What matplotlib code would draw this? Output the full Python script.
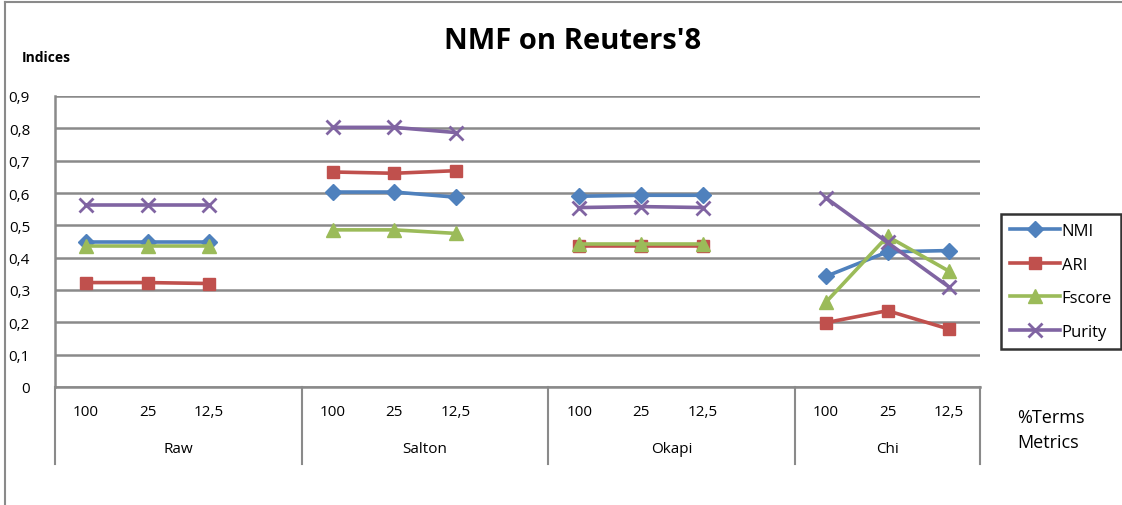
import numpy as np
import matplotlib.pyplot as plt
from matplotlib.lines import Line2D
from matplotlib.transforms import blended_transform_factory

plt.rcParams['font.family'] = ['Open Sans', 'DejaVu Sans']

groups = ['Raw', 'Salton', 'Okapi', 'Chi']
terms = ['100', '25', '12,5']
nmi = [0.450, 0.450, 0.450, 0.603, 0.603, 0.587, 0.590, 0.593, 0.593, 0.342, 0.418, 0.422]
ari = [0.323, 0.323, 0.320, 0.665, 0.661, 0.669, 0.437, 0.437, 0.437, 0.199, 0.236, 0.179]
fscore = [0.435, 0.435, 0.435, 0.486, 0.486, 0.475, 0.441, 0.441, 0.441, 0.262, 0.466, 0.358]
purity = [0.563, 0.563, 0.563, 0.803, 0.803, 0.787, 0.555, 0.558, 0.555, 0.585, 0.447, 0.309]

series = [
    ('NMI', nmi, '#4F81BD', 'D', 8, 0),
    ('ARI', ari, '#C0504D', 's', 9, 0),
    ('Fscore', fscore, '#9BBB59', '^', 10, 0),
    ('Purity', purity, '#8064A2', 'x', 10, 2),
]

grid_col = '#8a8a8a'

fig = plt.figure(figsize=(11.22, 5.06), dpi=100)
ax = fig.add_axes([55 / 1122, 1 - 388 / 506, 925 / 1122, 291 / 506])

# 4 slots per group, the last group has no trailing empty slot
for name, vals, col, mk, ms, mew in series:
    for g in range(len(groups)):
        xs = [g * 4 + k + 0.5 for k in range(3)]
        ys = vals[g * 3:g * 3 + 3]
        ax.plot(xs, ys, color=col, lw=2.6, marker=mk, ms=ms,
                mew=mew if mew else 1, mec=col, mfc=col, zorder=3)

ax.set_xlim(0, 15)
ax.set_ylim(0, 0.9)
ax.set_yticks(np.arange(0, 0.91, 0.1))
ax.set_yticklabels(['0'] + [('%.1f' % v).replace('.', ',') for v in np.arange(0.1, 0.91, 0.1)],
                   fontsize=11)
ax.set_xticks([])
ax.tick_params(axis='y', length=0, pad=18)
for lab in ax.get_yticklabels():
    lab.set_horizontalalignment('right')
ax.yaxis.grid(True, color=grid_col, lw=1.8)
ax.set_axisbelow(True)
for s in ['top', 'right']:
    ax.spines[s].set_visible(False)
for s in ['left', 'bottom']:
    ax.spines[s].set_color(grid_col)
    ax.spines[s].set_linewidth(1.8)

tr = blended_transform_factory(ax.transData, ax.transAxes)
for g, gname in enumerate(groups):
    for k, t in enumerate(terms):
        ax.text(g * 4 + k + 0.5, -0.085, t, transform=tr, ha='center', va='center', fontsize=11)
    right = min(g * 4 + 4, 15)
    ax.text((g * 4 + right) / 2, -0.21, gname, transform=tr, ha='center', va='center', fontsize=11)
for xb in [0, 4, 8, 12, 15]:
    ax.plot([xb, xb], [0, -0.265], transform=tr, color=grid_col, lw=1.5, clip_on=False)

fig.text(573 / 1122, 0.917, "NMF on Reuters'8", ha='center', va='center', fontsize=21, fontweight='bold')
fig.text(22 / 1122, 1 - 58 / 506, 'Indices', ha='left', va='center', fontsize=10, fontweight='bold')
fig.text(1017 / 1122, 1 - 418 / 506, '%Terms', ha='left', va='center', fontsize=13)
fig.text(1017 / 1122, 1 - 443 / 506, 'Metrics', ha='left', va='center', fontsize=13)

handles = [Line2D([], [], color=col, lw=2.6, marker=mk, ms=ms, mew=mew if mew else 1, mec=col, mfc=col)
           for _, _, col, mk, ms, mew in series]
leg = fig.legend(handles, [s[0] for s in series], loc='upper left',
                 bbox_to_anchor=(1001 / 1122, 1 - 215 / 506), fontsize=12,
                 frameon=True, fancybox=False, edgecolor='black', labelspacing=1.05,
                 handlelength=3.0, handletextpad=0.1, borderpad=0.55, borderaxespad=0)
leg.get_frame().set_linewidth(1.8)

# outer chart border
fig.add_artist(Line2D([5 / 1122, 5 / 1122], [0, 1 - 3 / 506], color=grid_col, lw=1.5))
fig.add_artist(Line2D([5 / 1122, 1], [1 - 3 / 506, 1 - 3 / 506], color=grid_col, lw=1.5))

fig.savefig('out.png', dpi=100)
